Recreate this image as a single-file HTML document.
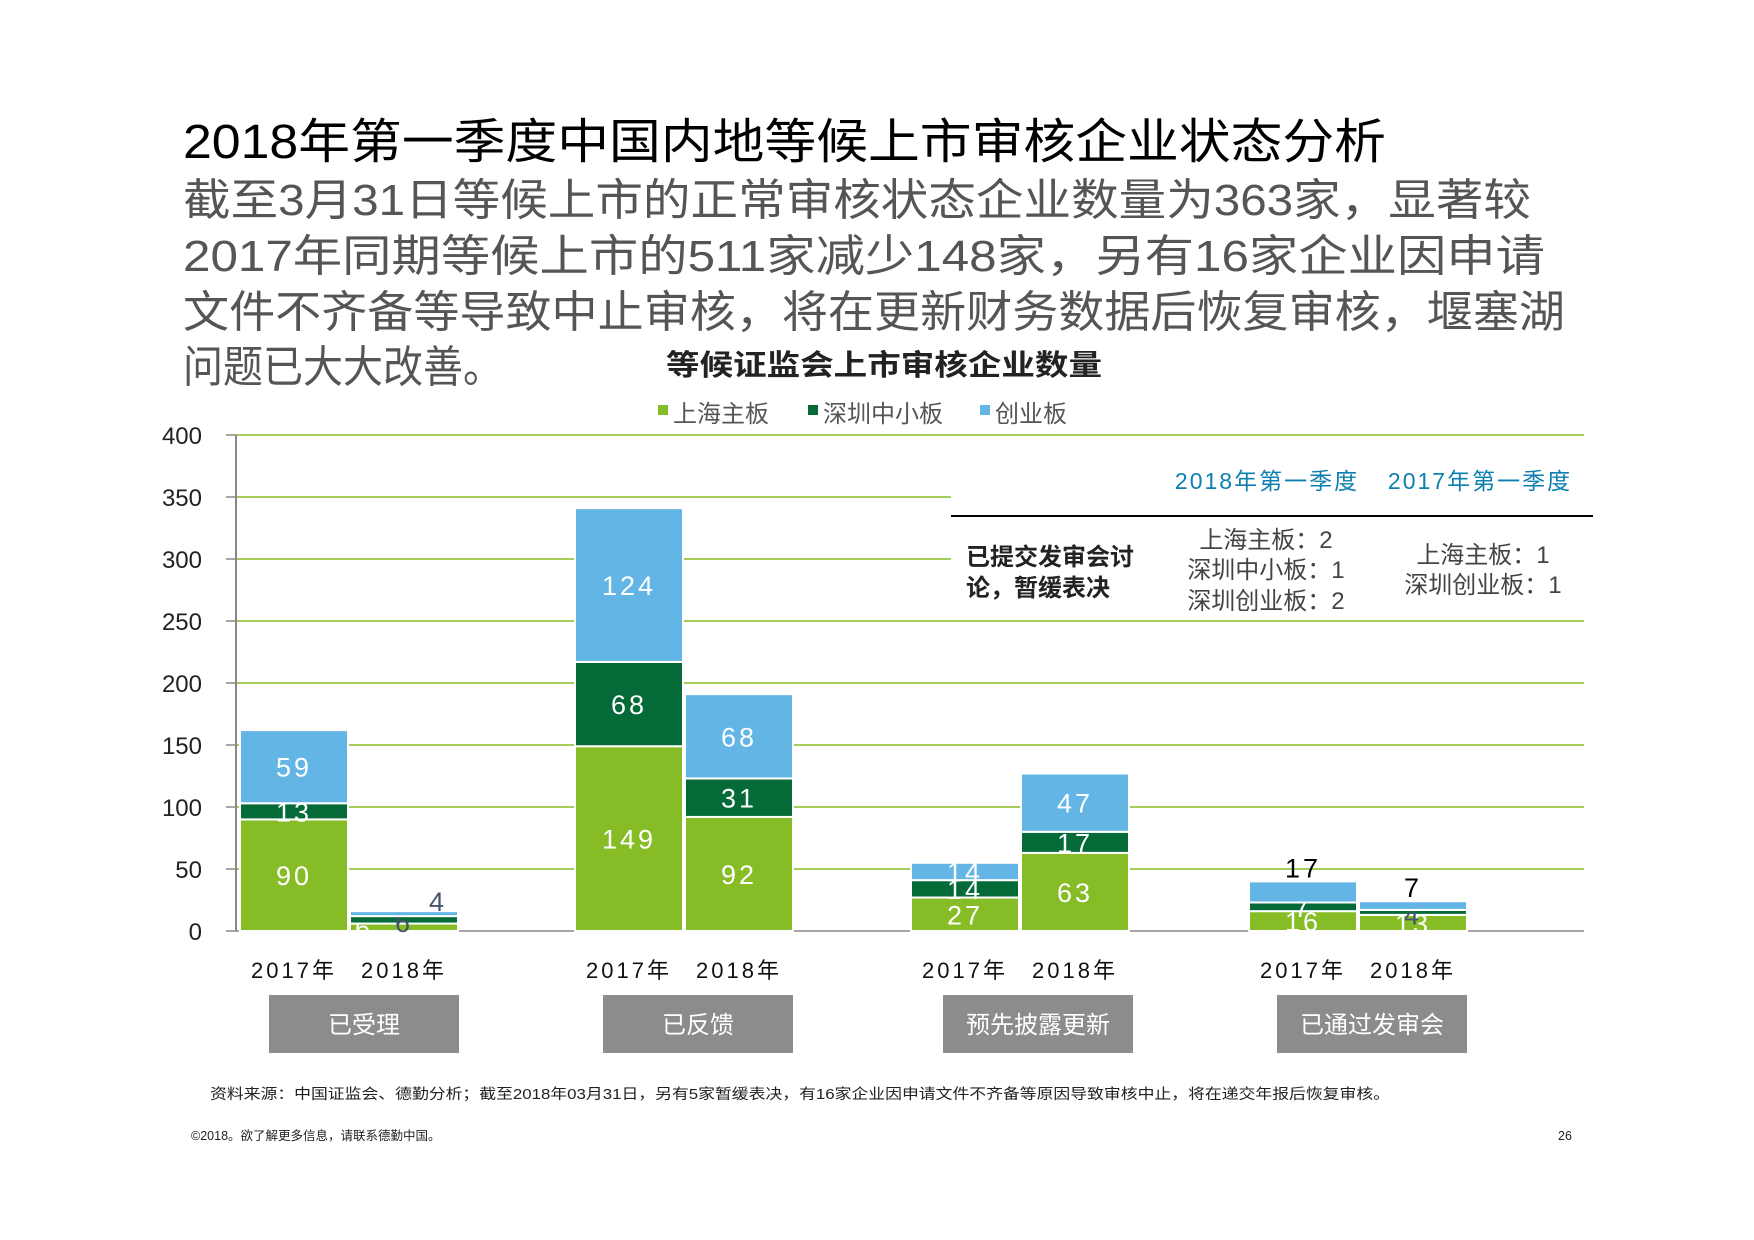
<!DOCTYPE html>
<html><head><meta charset="utf-8">
<style>
html,body{margin:0;padding:0;background:#fff;}
svg{display:block;font-family:"Liberation Sans","Noto Sans CJK SC",sans-serif;}
</style></head>
<body>
<svg id="chart" width="1754" height="1240" viewBox="0 0 1754 1240" xmlns="http://www.w3.org/2000/svg">
<text x="183" y="158" font-size="48" fill="#000" textLength="1203" lengthAdjust="spacingAndGlyphs">2018年第一季度中国内地等候上市审核企业状态分析</text>
<g font-size="44" fill="#555">
<text x="183" y="215" textLength="1348" lengthAdjust="spacingAndGlyphs">截至3月31日等候上市的正常审核状态企业数量为363家，显著较</text>
<text x="183" y="271" textLength="1362" lengthAdjust="spacingAndGlyphs">2017年同期等候上市的511家减少148家，另有16家企业因申请</text>
<text x="183" y="327" textLength="1382" lengthAdjust="spacingAndGlyphs">文件不齐备等导致中止审核，将在更新财务数据后恢复审核，堰塞湖</text>
<text x="183" y="382" textLength="320" lengthAdjust="spacingAndGlyphs">问题已大大改善。</text>
</g>
<text x="666" y="375" font-size="29" font-weight="bold" fill="#222" textLength="436" lengthAdjust="spacingAndGlyphs">等候证监会上市审核企业数量</text>
<g id="legend" font-size="24" fill="#555"></g>
<g id="grid"></g>
<g id="bars"></g>
<rect x="951" y="462" width="642" height="150" fill="#fff"/>
<g>
<text x="1267" y="489" font-size="23" fill="#0d7fb0" text-anchor="middle" letter-spacing="2">2018年第一季度</text>
<text x="1480" y="489" font-size="23" fill="#0d7fb0" text-anchor="middle" letter-spacing="2">2017年第一季度</text>
<line x1="951" y1="516" x2="1593" y2="516" stroke="#000" stroke-width="2"/>
<text x="966" y="565" font-size="24" font-weight="bold" fill="#222"><tspan x="966">已提交发审会讨</tspan><tspan x="966" dy="31">论，暂缓表决</tspan></text>
<text font-size="24" fill="#444" text-anchor="middle"><tspan x="1266" y="548">上海主板：2</tspan><tspan x="1266" y="578">深圳中小板：1</tspan><tspan x="1266" y="609">深圳创业板：2</tspan></text>
<text font-size="24" fill="#444" text-anchor="middle"><tspan x="1483" y="563">上海主板：1</tspan><tspan x="1483" y="593">深圳创业板：1</tspan></text>
</g>
<g id="cats"></g>
<text x="210" y="1099" font-size="14.5" fill="#222" textLength="1180" lengthAdjust="spacingAndGlyphs">资料来源：中国证监会、德勤分析；截至2018年03月31日，另有5家暂缓表决，有16家企业因申请文件不齐备等原因导致审核中止，将在递交年报后恢复审核。</text>
<text x="191" y="1140" font-size="12.5" fill="#222">©2018。欲了解更多信息，请联系德勤中国。</text>
<text x="1565" y="1140" font-size="12.5" fill="#222" text-anchor="middle">26</text>
</svg>
<script>
const categories = ["已受理","已反馈","预先披露更新","已通过发审会"];
const years = ["2017年","2018年"];
const shanghai = [[90,6],[149,92],[27,63],[16,13]];
const shenzhenSME = [[13,6],[68,31],[14,17],[7,4]];
const chinext = [[59,4],[124,68],[14,47],[17,7]];
const yTicks = [0,50,100,150,200,250,300,350,400];
const seriesNames = ["上海主板","深圳中小板","创业板"];
const seriesColors = ["#86bc25","#046a38","#62b5e5"];
// label placement style per series/category/year: in = white inside, dark = dark inside, above = black above, right = dark above right, left = white left
const labelModeShanghai = [["in","left"],["in","in"],["in","in"],["in","in"]];
const labelModeSME = [["in","dark"],["in","in"],["in","in"],["in","dark"]];
const labelModeChinext = [["in","right"],["in","in"],["in","in"],["above","above"]];
const NS="http://www.w3.org/2000/svg";
function el(tag,attrs,parent,txt){const e=document.createElementNS(NS,tag);for(const k in attrs)e.setAttribute(k,attrs[k]);if(txt!==undefined)e.textContent=txt;parent.appendChild(e);return e;}
const y0=931, yTop=435, yMax=400;
function yScale(v){return y0-(v/yMax)*(y0-yTop);}
const groupStart=[240,575,911,1249], barW=108, barGap=2;
function xBar(g,i){return groupStart[g]+i*(barW+barGap);}
const grid=document.getElementById('grid');
yTicks.forEach(t=>{
  const y=yScale(t);
  if(t>0){const l=el('line',{x1:236,y1:y,x2:1584,y2:y,stroke:'#86bc25','stroke-width':1.5},grid);
  
  }
  const tk=el('line',{x1:226,y1:y,x2:236,y2:y,stroke:'#888','stroke-width':1.5},grid);
  
  
  const tx=el('text',{x:202,y:y+9,'font-size':24,fill:'#222','text-anchor':'end'},grid,String(t));
  
  
});
const ax=el('line',{x1:236,y1:y0,x2:1584,y2:y0,stroke:'#888','stroke-width':1.5},grid);


const ay=el('line',{x1:236,y1:yTop,x2:236,y2:y0,stroke:'#888','stroke-width':2},grid);


const lg=document.getElementById('legend');
const legX=[658,808,980];
seriesNames.forEach((n,i)=>{
  const r=el('rect',{x:legX[i],y:405,width:10,height:10,fill:seriesColors[i]},lg);
  
  
  const t=el('text',{x:legX[i]+15,y:422},lg,n);
  
  
});
const bars=document.getElementById('bars');
const allSeries=[shanghai,shenzhenSME,chinext];
const allModes=[labelModeShanghai,labelModeSME,labelModeChinext];
categories.forEach((c,g)=>{
  for(let i=0;i<2;i++){
    let cum=0;const x=xBar(g,i);
    allSeries.forEach((s,si)=>{
      const v=s[g][i];const yA=yScale(cum),yB=yScale(cum+v);
      const r=el('rect',{x:x,y:yB,width:barW,height:Math.max(0,yA-yB),fill:seriesColors[si],stroke:'#fff','stroke-width':2},bars);
      
      
      const mode=allModes[si][g][i];
      let lx=x+barW/2, ly=(yA+yB)/2+10, fill='#fff';
      if(mode==='above'){ly=yB-4;fill='#000';}
      else if(mode==='dark'){fill='#44546a';ly=(yA+yB)/2+12;}
      else if(mode==='left'){lx=x+14;}
      else if(mode==='right'){lx=x+88;fill='#44546a';ly=yB;}
      const t=el('text',{x:lx,y:ly,'font-size':27,fill:fill,'text-anchor':'middle','letter-spacing':3},bars,String(v));
      
      
      cum+=v;
    });
    const yl=el('text',{x:x+barW/2,y:978,'font-size':22,fill:'#111','text-anchor':'middle','letter-spacing':3},bars,years[i]);
    
    
  }
});
const cats=document.getElementById('cats');
const boxX=[269,603,943,1277];
categories.forEach((c,g)=>{
  const r=el('rect',{x:boxX[g],y:995,width:190,height:58,fill:'#8c8c8c'},cats);
  
  
  const t=el('text',{x:boxX[g]+95,y:1033,'font-size':24,fill:'#fff','text-anchor':'middle'},cats,c);
  
  
});
</script>
</body></html>
